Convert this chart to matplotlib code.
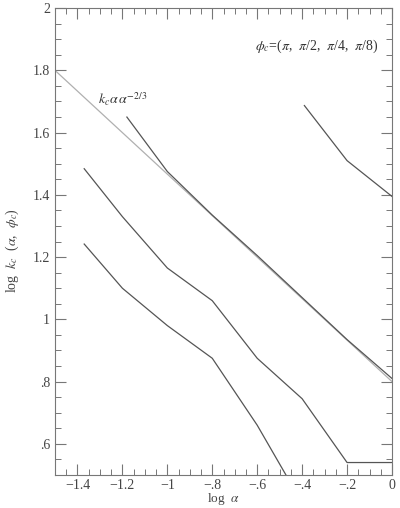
import numpy as np
import matplotlib
matplotlib.use("Agg")
import matplotlib.pyplot as plt
from matplotlib.ticker import MultipleLocator, FixedLocator

# curves (log alpha, log k_c)
x1 = [-0.39, -0.2, 0.0]
y1 = [1.687, 1.51, 1.395]

x2 = [-1.18, -1.0, -0.8, -0.6, -0.4, -0.2, 0.0]
y2 = [1.65, 1.475, 1.335, 1.205, 1.07, 0.935, 0.81]

x3 = [-1.37, -1.2, -1.0, -0.8, -0.6, -0.4, -0.2, 0.0]
y3 = [1.484, 1.33, 1.165, 1.06, 0.875, 0.745, 0.54, 0.54]

x4 = [-1.37, -1.2, -1.0, -0.8, -0.6, -0.4]
y4 = [1.242, 1.10, 0.98, 0.875, 0.66, 0.41]

# reference power law k_c ~ alpha^(-2/3)
xref = [-1.5, 0.0]
yref = [1.8, 0.8]

xticks = [-1.4, -1.2, -1.0, -0.8, -0.6, -0.4, -0.2, 0.0]
xticklabels = ["\u22121.4", "\u22121.2", "\u22121", "\u2212.8", "\u2212.6", "\u2212.4", "\u2212.2", "0"]
yticks = [0.6, 0.8, 1.0, 1.2, 1.4, 1.6, 1.8, 2.0]
yticklabels = [".6", ".8", "1", "1.2", "1.4", "1.6", "1.8", "2"]

plt.rcParams['font.family'] = ['Liberation Serif', 'DejaVu Serif']
plt.rcParams['mathtext.fontset'] = 'stix'

fig = plt.figure(figsize=(4, 5.08), dpi=100)
ax = fig.add_axes([0.1375, 0.065, 0.8425, 0.919])

ink = '#555555'
ax.plot(xref, yref, color='#b0b0b0', lw=0.9)
for xs, ys in [(x1, y1), (x2, y2), (x3, y3), (x4, y4)]:
    ax.plot(xs, ys, color=ink, lw=0.9)

ax.set_xlim(-1.5, 0)
ax.set_ylim(0.5, 2)

ax.xaxis.set_major_locator(FixedLocator(xticks))
ax.set_xticklabels(xticklabels)
ax.yaxis.set_major_locator(FixedLocator(yticks))
ax.set_yticklabels(yticklabels)
ax.xaxis.set_minor_locator(MultipleLocator(0.05))
ax.yaxis.set_minor_locator(MultipleLocator(0.05))

ax.tick_params(which='both', direction='in', top=True, right=True,
               color='#777777', labelcolor='#444444', labelsize=10)
ax.tick_params(which='major', length=8, width=0.8)
ax.tick_params(which='minor', length=4, width=0.7)
ax.tick_params(axis='x', pad=3)
for s in ax.spines.values():
    s.set_color('#777777')
    s.set_linewidth(0.8)

ax.set_xlabel(r'log  $\alpha$', color='#444444', fontsize=9.5)
ax.xaxis.set_label_coords(0.5, -0.034)
ax.set_ylabel(r'log  $k_c$  ($\alpha$,  $\phi_c$)', color='#444444', fontsize=10)
ax.yaxis.set_label_coords(-0.1, 0.48)

ax.text(-1.31, 1.69, r'$k_c\alpha\,\alpha^{-2/3}$', color='#333333', fontsize=10)
ax.text(-0.06, 1.865, r'$\phi_c$=($\pi$,  $\pi$/2,  $\pi$/4,  $\pi$/8)',
        color='#333333', fontsize=10, ha='right')

fig.savefig('out.png', dpi=100)
